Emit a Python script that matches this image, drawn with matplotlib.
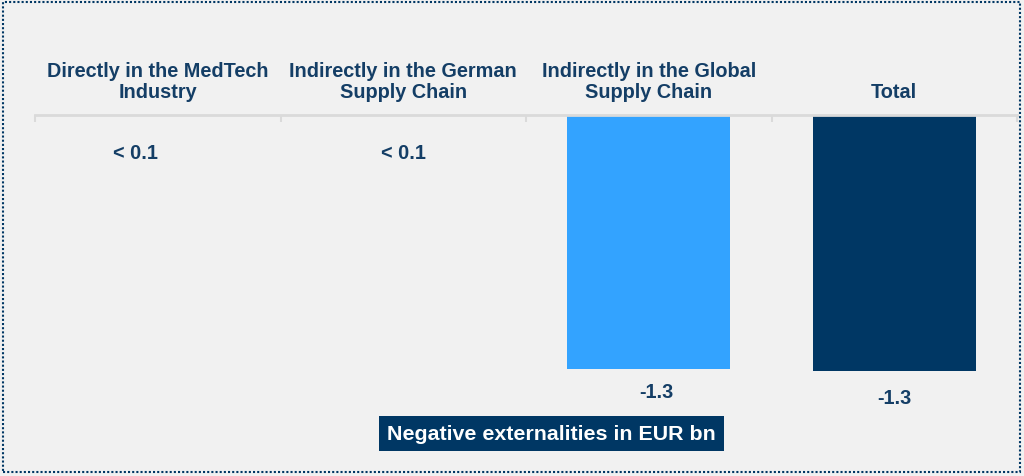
import matplotlib.pyplot as plt
from matplotlib.patches import Rectangle

plt.rcParams['font.family'] = ['Liberation Sans', 'DejaVu Sans']

# chart data
categories = ["Directly in the MedTech\nIndustry",
              "Indirectly in the German\nSupply Chain",
              "Indirectly in the Global\nSupply Chain",
              "Total"]
values = [0.0, 0.0, -1.29, -1.30]
value_labels = ["< 0.1", "< 0.1", "-1.3", "-1.3"]
legend_text = "Negative externalities in EUR bn"

navy = "#003764"
text_col = "#143e66"
bar_colors = ["#33a3ff", "#33a3ff", "#33a3ff", navy]
bg = "#f1f1f1"

fig = plt.figure(figsize=(10.24, 4.77), dpi=100)
fig.patch.set_facecolor(bg)

ax = fig.add_axes([0.0342, 0.0356, 0.959, 0.7212])
ax.set_facecolor(bg)

x = list(range(len(categories)))
ax.bar(x, values, width=0.665, color=bar_colors, zorder=2)

ax.set_xlim(-0.5, 3.5)
ax.set_ylim(-1.745, 0)

# category labels on top, tick marks at the boundaries
ax.xaxis.tick_top()
ax.set_xticks(x)
ax.set_xticklabels(categories, fontsize=14.3, fontweight="bold", color=text_col,
                   linespacing=1.12)
ax.tick_params(axis="x", which="major", length=0, pad=10)
ax.set_xticks([-0.5, 0.5, 1.5, 2.5, 3.5], minor=True)
ax.tick_params(axis="x", which="minor", direction="in", length=5, width=1.5,
               color="#dadada", top=True, bottom=False)
ax.set_yticks([])
for side in ["left", "right", "bottom"]:
    ax.spines[side].set_visible(False)
ax.spines["top"].set_color("#dadada")
ax.spines["top"].set_linewidth(2)

# value labels
label_dx = [-0.092, 0.0, 0.03, 0.0]
label_dy = [-37, -37, -22, -26]
for xi, v, lab, dx, dy in zip(x, values, value_labels, label_dx, label_dy):
    ax.annotate(lab, (xi + dx, min(v, 0)), xytext=(0, dy * 0.72),
                textcoords="offset points", ha="center", va="center",
                fontsize=14.3, fontweight="bold", color=text_col)

# legend box
fig.text(0.5386, 0.0888, legend_text, ha="center", va="center",
         fontsize=15.4, fontweight="bold", color="white",
         bbox=dict(boxstyle="square,pad=0.36", facecolor=navy, edgecolor="none"))

# dotted frame
fig.patches.append(Rectangle((0.003, 0.008), 0.993, 0.986, transform=fig.transFigure,
                             fill=False, edgecolor=navy, linestyle=(0, (1, 1)),
                             linewidth=1.5))

fig.savefig("out.png", dpi=100, facecolor=bg)
